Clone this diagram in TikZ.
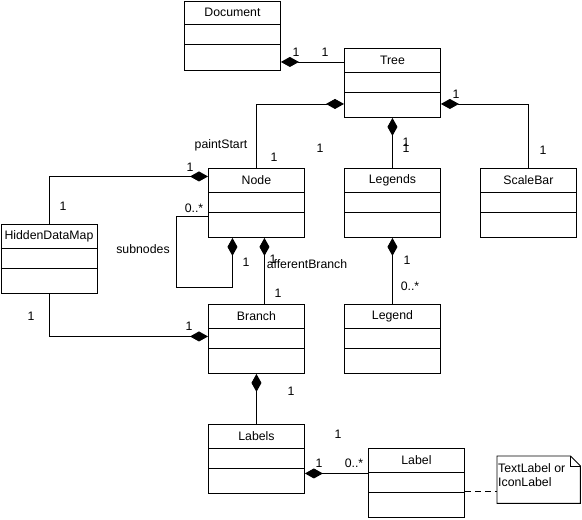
\documentclass[tikz,border=0pt]{standalone}
\usepackage{fontspec}
\setmainfont{Liberation Sans}
\usetikzlibrary{arrows.meta,calc}
\tikzset{
  cls/.style={draw, line width=0.9pt, minimum width=96pt, minimum height=69pt, anchor=north west, inner sep=0pt, fill=white},
  ttl/.style={font=\fontsize{12.3}{14}\selectfont, inner sep=0pt},
  lbl/.style={font=\fontsize{12.3}{14}\selectfont, inner sep=0pt},
  comp/.style={line width=0.9pt, arrows={Diamond[length=18pt,width=10pt]-}},
  conn/.style={line width=0.9pt},
  dashline/.style={line width=0.9pt, dash pattern=on 6pt off 4pt},
}
\newcommand\umlcls[3]{%
  \node[cls] (#1) at (#2) {};
  \node[ttl] (#1-t) at ($(#1.north)+(0,12)$) {#3};
  \draw[line width=0.9pt] ($(#1.north west)+(0,24)$) -- ($(#1.north east)+(0,24)$);
  \draw[line width=0.9pt] ($(#1.north west)+(0,44)$) -- ($(#1.north east)+(0,44)$);
}
\begin{document}
\begin{tikzpicture}[x=1pt,y=-1pt]
\useasboundingbox (0,0) rectangle (582,520);
\umlcls{Document}{184,0.5}{Document}
\umlcls{Tree}{344,48}{Tree}
\umlcls{Node}{208,168}{Node}
\umlcls{Legends}{344,168}{Legends}
\umlcls{ScaleBar}{480,168}{ScaleBar}
\umlcls{HiddenDataMap}{0.5,224}{HiddenDataMap}
\umlcls{Branch}{208,304}{Branch}
\umlcls{Legend}{344,304}{Legend}
\umlcls{Labels}{208,424}{Labels}
\umlcls{Label}{368,448}{Label}

% note
\node[inner sep=0pt, minimum width=83pt, minimum height=47pt, anchor=north west] (note) at (497,456) {};
\draw[line width=0.9pt, fill=white] (note.north west) -- ($(note.north east)+(-10,0)$) -- ($(note.north east)+(0,10)$) -- (note.south east) -- (note.south west) -- cycle;
\draw[line width=0.9pt] ($(note.north east)+(-10,0)$) -- ($(note.north east)+(-10,10)$) -- ($(note.north east)+(0,10)$);
\node[lbl, anchor=north west, align=left] (notetext) at (498,463) {TextLabel or\\IconLabel};

% connectors
\draw[comp] ([yshift=-26.5pt]Document.east) coordinate (dA) -- (dA -| Tree.west);
\node[lbl] (l1) at (296,52) {1};
\node[lbl] (l2) at (325,52) {1};

\draw[comp] ([yshift=-21pt]Tree.west) -| (Node.north);
\node[lbl] (l3) at (221,145) {paintStart};
\node[lbl] (l4) at (274,157) {1};
\node[lbl] (l5) at (320,148) {1};

\draw[comp] (Tree.south) -- (Legends.north);
\node[lbl] (l6) at (406,142) {1};
\node[lbl] (l7) at (406,148) {1};

\draw[comp] ([yshift=-21pt]Tree.east) -| (ScaleBar.north);
\node[lbl] (l8) at (456,94) {1};
\node[lbl] (l9) at (543,150) {1};

\draw[comp] ([yshift=26.5pt]Node.west) -| (HiddenDataMap.north);
\node[lbl] (l10) at (190,167) {1};
\node[lbl] (l11) at (63,206) {1};

\draw[comp] ([xshift=-24pt]Node.south) -- ++(0,50) -- ++(-56,0) |- ([yshift=-13.5pt]Node.west);
\node[lbl] (l12) at (194,208) {0..*};
\node[lbl] (l13) at (143,249) {subnodes};
\node[lbl] (l14) at (246,262) {1};

\draw[comp] ([xshift=8pt]Node.south) -- ([xshift=8pt]Branch.north);
\node[lbl] (l15) at (307,264) {afferentBranch};
\node[lbl] (l16) at (273,259) {1};
\node[lbl] (l17) at (278,293) {1};

\draw[comp] ([yshift=2.5pt]Branch.west) -| (HiddenDataMap.south);
\node[lbl] (l18) at (31,316) {1};
\node[lbl] (l19) at (189,326) {1};

\draw[comp] (Legends.south) -- (Legend.north);
\node[lbl] (l20) at (407,260) {1};
\node[lbl] (l21) at (410,286) {0..*};

\draw[comp] (Branch.south) -- (Labels.north);
\node[lbl] (l22) at (291,391) {1};

\draw[comp] ([yshift=-14.5pt]Labels.east) coordinate (lA) -- (lA -| Label.west);
\node[lbl] (l23) at (319,463) {1};
\node[lbl] (l24) at (354,463) {0..*};
\node[lbl] (l25) at (338,434) {1};

\draw[dashline] ([yshift=-8.5pt]Label.east) coordinate (nA) -- (nA -| note.west);
\end{tikzpicture}
\end{document}
